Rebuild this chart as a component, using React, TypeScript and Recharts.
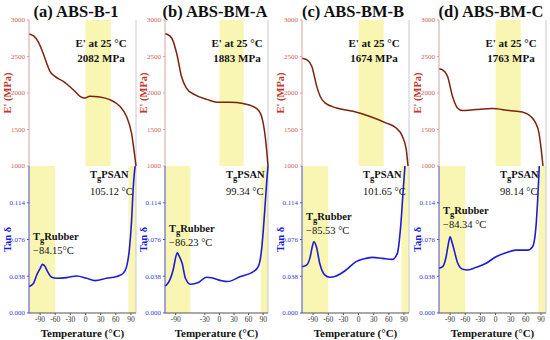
import React from 'react';
import { LineChart, Line, XAxis, YAxis, ReferenceArea, ReferenceLine, Label } from 'recharts';

// ---------------- data ----------------
const panelTitles = ['(a) ABS-B-1', '(b) ABS-BM-A', '(c) ABS-BM-B', '(d) ABS-BM-C'];
const modulusAt25 = ['2082', '1883', '1674', '1763'];
const tgPSAN = ['105.12 °C', '99.34 °C', '101.65 °C', '98.14 °C'];
const tgRubber = ['−84.15°C', '−86.23 °C', '−85.53 °C', '−84.34 °C'];

const xTicks = [-90, -60, -30, 0, 30, 60, 90];
const eTicks = [1000, 1500, 2000, 2500, 3000];
const tanTicks = [0, 0.038, 0.076, 0.114];

// storage modulus E' (MPa)
const aETemp = [-112, -103, -94, -84, -77, -70.5, -60.6, -44, -24.4, -11, -1.3, 8.5, 28, 48, 68, 81, 91, 100];
const aEVal = [2809, 2782, 2705, 2545, 2409, 2295, 2227, 2159, 2045, 1955, 1930, 1955, 1945, 1909, 1818, 1682, 1455, 1000];
const bETemp = [-112, -108, -98, -88, -78, -68, -51, -24.6, -4.6, 22, 48.6, 68.6, 82, 88.6, 95, 100];
const bEVal = [2812, 2805, 2750, 2545, 2227, 2068, 1977, 1909, 1873, 1873, 1855, 1818, 1750, 1636, 1364, 1000];
const cETemp = [-112, -102, -92.5, -82.8, -76, -66.5, -43.6, -11, 21.5, 54, 74, 86.7, 94.5, 98];
const cEVal = [2477, 2455, 2364, 2091, 1955, 1864, 1795, 1750, 1682, 1591, 1523, 1409, 1227, 1000];
const dETemp = [-112, -105, -95, -85.3, -75.4, -65.5, -39, -6.3, 26.7, 53, 69.5, 79.4, 86, 90.5, 94];
const dEVal = [2332, 2318, 2227, 1955, 1795, 1759, 1773, 1786, 1759, 1741, 1682, 1591, 1455, 1227, 1000];

// loss factor tan δ
const aTanTemp = [-112, -103, -96.6, -90, -85.4, -80, -76.8, -66.9, -57, -37.3, -17.5, 2.3, 18.8, 41.8, 61.6, 74.8, 81.4, 86.7, 91.3, 94.6, 97.9, 98.5];
const aTanVal = [0.0274, 0.0308, 0.0394, 0.046, 0.0503, 0.048, 0.0445, 0.037, 0.0359, 0.0366, 0.0383, 0.0359, 0.0335, 0.0359, 0.0377, 0.0411, 0.0479, 0.065, 0.0959, 0.13, 0.15, 0.152];
const bTanTemp = [-112, -108.7, -102, -95.3, -88.7, -86.5, -82, -76.7, -70, -60, -43.3, -27, -16.7, 3.3, 16.7, 43.3, 70, 80, 86.7, 93.3, 98, 100];
const bTanVal = [0.028, 0.0291, 0.0342, 0.0445, 0.0599, 0.0623, 0.058, 0.0514, 0.0359, 0.0298, 0.0315, 0.037, 0.0365, 0.0335, 0.0325, 0.0377, 0.0428, 0.0479, 0.065, 0.106, 0.14, 0.152];
const cTanTemp = [-112, -103, -96.5, -91, -88.7, -83.5, -76.9, -67, -57.3, -44.2, -24.6, -5, 14.7, 27.8, 47.4, 67, 76.9, 83.4, 88, 92];
const cTanVal = [0.0479, 0.0496, 0.0565, 0.07, 0.0736, 0.0685, 0.0514, 0.0394, 0.037, 0.0383, 0.0445, 0.0531, 0.0565, 0.0575, 0.0565, 0.0555, 0.0616, 0.089, 0.123, 0.152];
const dTanTemp = [-112, -104.5, -97.9, -92.5, -90, -85.5, -74.8, -64.9, -55, -38.5, -18.7, 1, 20.8, 40.6, 63.6, 73.5, 80.1, 83.4, 86.7];
const dTanVal = [0.0462, 0.0479, 0.0582, 0.074, 0.0787, 0.0719, 0.0514, 0.0452, 0.0445, 0.0472, 0.0514, 0.0582, 0.0623, 0.065, 0.065, 0.0685, 0.089, 0.116, 0.152];

// ---------------- styling / layout ----------------
const X_DOMAIN: [number, number] = [-112, 100];
const FONT = 'Liberation Serif';
const YELLOW = '#f9f6b4';
const E_COLOR = '#7a2410';
const E_TICK = '#d0605a';
const E_LABEL = '#c0392b';
const TAN_COLOR = '#1c1cd6';
const TAN_TICK = '#3a3ad0';
const Y_AXIS_W = 29;

const plotLeft = [29, 165, 302, 439];
const plotWidth = [107, 103, 107, 107];
const titleCenter = [76, 215, 353, 491];
const rubberY = [237, 229, 217, 211];

const rows = (t: number[], v: number[]) => t.map((x, k) => ({ t: x, v: v[k] }));
const eRows = [rows(aETemp, aEVal), rows(bETemp, bEVal), rows(cETemp, cEVal), rows(dETemp, dEVal)];
const tanRows = [rows(aTanTemp, aTanVal), rows(bTanTemp, bTanVal), rows(cTanTemp, cTanVal), rows(dTanTemp, dTanVal)];

const svgFont = (size: number, fill: string, bold = false) => ({
  fontSize: size,
  fill,
  fontFamily: FONT,
  fontWeight: bold ? 700 : 400,
  style: { fontFamily: FONT },
});

const txt = (left: number, top: number, content: React.ReactNode, extra: React.CSSProperties = {}) => (
  <div
    style={{
      position: 'absolute',
      left,
      top,
      transform: 'translateY(-50%)',
      whiteSpace: 'nowrap',
      fontFamily: FONT,
      fontSize: 10.5,
      lineHeight: 1,
      color: '#111',
      ...extra,
    }}
  >
    {content}
  </div>
);

const Tg = ({ rest }: { rest: string }) => (
  <span style={{ fontWeight: 700 }}>
    T<span style={{ fontSize: 8.5, position: 'relative', top: 2.5 }}>g</span>
    {rest}
  </span>
);

function Panel({ i }: { i: number }) {
  const L = plotLeft[i];
  const W = plotWidth[i];
  const chartW = Y_AXIS_W + W + 1;
  return (
    <>
      {/* E' chart */}
      <div style={{ position: 'absolute', left: L - Y_AXIS_W, top: 14 }}>
        <LineChart width={chartW} height={158} data={eRows[i]} margin={{ top: 6, right: 1, bottom: 6, left: 0 }}>
          <ReferenceArea x1={0} x2={50} fill={YELLOW} fillOpacity={1} stroke="none" />
          <XAxis type="number" dataKey="t" domain={X_DOMAIN} ticks={xTicks} tick={false} height={0} axisLine={{ stroke: '#888' }} tickLine={false} />
          <YAxis
            type="number"
            domain={[1000, 3000]}
            ticks={eTicks}
            width={Y_AXIS_W}
            tickSize={2}
            tick={svgFont(7, E_TICK)}
            axisLine={{ stroke: '#d9a0a0' }}
            tickLine={{ stroke: '#d9a0a0' }}
          >
            <Label value="E' (MPa)" angle={-90} position="insideLeft" offset={7} style={{ textAnchor: 'middle', fontSize: 10.5, fontWeight: 700, fill: E_LABEL, fontFamily: FONT }} />
          </YAxis>
          <ReferenceLine x={100} stroke="#c8c8d8" />
          <Line type="monotone" dataKey="v" stroke={E_COLOR} strokeWidth={1.5} dot={false} isAnimationActive={false} />
        </LineChart>
      </div>

      {/* tan δ chart */}
      <div style={{ position: 'absolute', left: L - Y_AXIS_W, top: 162 }}>
        <LineChart width={chartW} height={179} data={tanRows[i]} margin={{ top: 4, right: 1, bottom: 0, left: 0 }}>
          <ReferenceArea x1={-112} x2={-60} fill={YELLOW} fillOpacity={1} stroke="none" />
          <ReferenceArea x1={85} x2={100} fill={YELLOW} fillOpacity={1} stroke="none" />
          <XAxis
            type="number"
            dataKey="t"
            domain={X_DOMAIN}
            ticks={xTicks}
            height={28}
            tickSize={2}
            tick={svgFont(7.5, '#333')}
            axisLine={{ stroke: '#555' }}
            tickLine={{ stroke: '#555' }}
          >
            <Label value="Temperature (°C)" position="insideBottom" offset={4} style={{ fontSize: 11, fontWeight: 700, fill: '#111', fontFamily: FONT }} />
          </XAxis>
          <YAxis
            type="number"
            domain={[0, 0.152]}
            allowDataOverflow
            ticks={tanTicks}
            tickFormatter={(v: number) => v.toFixed(3)}
            width={Y_AXIS_W}
            tickSize={2}
            tick={svgFont(7, TAN_TICK)}
            axisLine={{ stroke: '#4a4ad0' }}
            tickLine={{ stroke: '#4a4ad0' }}
          >
            <Label value="Tan δ" angle={-90} position="insideLeft" offset={7} style={{ textAnchor: 'middle', fontSize: 10.5, fontWeight: 700, fill: TAN_COLOR, fontFamily: FONT }} />
          </YAxis>
          <ReferenceLine x={100} stroke="#c8c8d8" />
          <Line type="monotone" dataKey="v" stroke={TAN_COLOR} strokeWidth={1.6} dot={false} isAnimationActive={false} />
        </LineChart>
      </div>

      {/* title */}
      <div
        style={{
          position: 'absolute',
          left: titleCenter[i],
          top: 12,
          transform: 'translate(-50%, -50%)',
          whiteSpace: 'nowrap',
          fontFamily: FONT,
          fontWeight: 700,
          fontSize: 16.5,
          lineHeight: 1,
          color: '#111',
        }}
      >
        {panelTitles[i]}
      </div>

      {/* annotations */}
      {txt(L + 72, 43, "E' at 25 °C", { fontWeight: 700, fontSize: 11, transform: 'translate(-50%, -50%)' })}
      {txt(L + 72, 58, `${modulusAt25[i]} MPa`, { fontWeight: 700, fontSize: 11, transform: 'translate(-50%, -50%)' })}
      {txt(L + 61, 175, <Tg rest="PSAN" />)}
      {txt(L + 61, 192, tgPSAN[i])}
      {txt(L + 4, rubberY[i], <Tg rest="Rubber" />)}
      {txt(L + 4, rubberY[i] + 14, tgRubber[i])}
    </>
  );
}

export default function App() {
  return (
    <div style={{ position: 'absolute', left: 0, top: 0, width: 550, height: 340, background: '#fff', overflow: 'hidden', fontFamily: FONT }}>
      {[0, 1, 2, 3].map((i) => (
        <Panel key={i} i={i} />
      ))}
    </div>
  );
}
